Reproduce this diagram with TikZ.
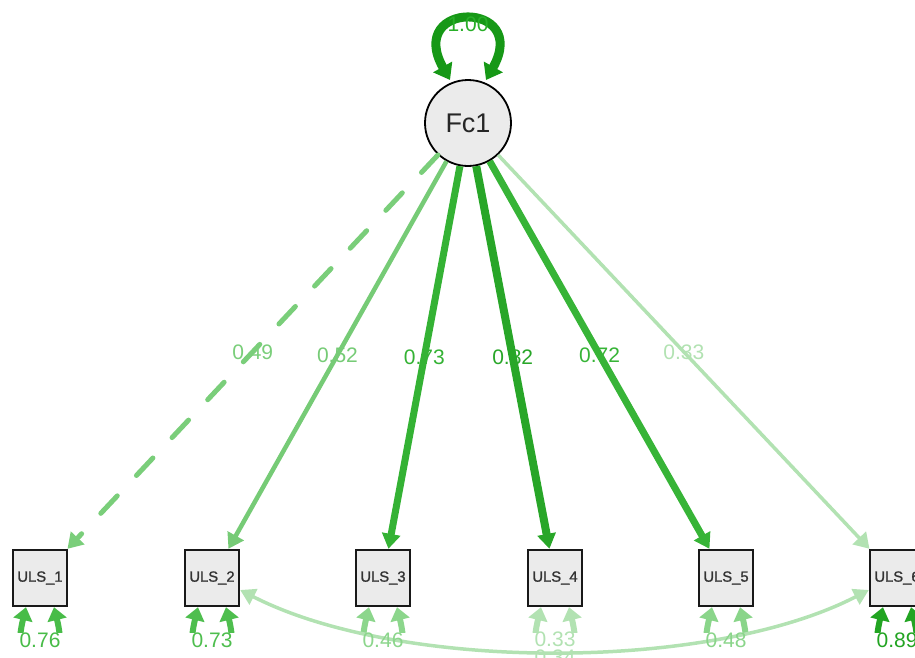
\documentclass[tikz,border=0pt]{standalone}
\usepackage{fontspec}
\setmainfont{Liberation Sans}
\newfontfamily\boxfont[FakeBold=1.3]{Liberation Sans}
\usetikzlibrary{arrows.meta,calc}
\definecolor{e049}{RGB}{122,206,122}
\definecolor{e052}{RGB}{118,203,118}
\definecolor{e073}{RGB}{52,178,52}
\definecolor{e082}{RGB}{40,166,40}
\definecolor{e072}{RGB}{55,180,55}
\definecolor{e033}{RGB}{178,226,178}
\definecolor{loopc}{RGB}{22,152,22}
\definecolor{loopl}{RGB}{40,175,40}
\definecolor{r076}{RGB}{72,188,72}
\definecolor{r073}{RGB}{78,190,78}
\definecolor{r046}{RGB}{140,214,140}
\definecolor{r033}{RGB}{178,226,178}
\definecolor{r048}{RGB}{138,213,138}
\definecolor{r089}{RGB}{34,164,34}
\definecolor{nodefill}{RGB}{235,235,235}
\tikzset{
  latent/.style={circle,draw=black,line width=1.8pt,fill=nodefill,minimum size=86pt,inner sep=0pt,
    font=\fontsize{27}{30}\selectfont,text=black!85},
  manifest/.style={rectangle,draw=black!90,line width=2.4pt,fill=nodefill,minimum width=54pt,minimum height=56pt,
    inner sep=0pt,font=\boxfont\fontsize{14.8}{16}\selectfont,text=black!80},
  load/.style={-{Triangle[length=15pt,width=18pt]}},
  elabel/.style={font=\fontsize{21}{24}\selectfont},
  resid/.style={{Triangle[length=13pt,width=19pt]}-{Triangle[length=13pt,width=19pt]},line width=6pt},
}
\begin{document}
\begin{tikzpicture}[x=1pt,y=-1pt]
\useasboundingbox (0,0) rectangle (915,657);
\clip (0,0) rectangle (915,657);
% nodes
\node[latent] (Fc1) at (468,123) {Fc1};
\node[manifest] (U1) at (40,578) {ULS\_1};
\node[manifest] (U2) at (212,578) {ULS\_2};
\node[manifest] (U3) at (383,578) {ULS\_3};
\node[manifest] (U4) at (555,578) {ULS\_4};
\node[manifest] (U5) at (726,578) {ULS\_5};
\node[manifest] (U6) at (897,578) {ULS\_6};
% residual loops
\foreach \n/\c in {U1/r076,U2/r073,U3/r046,U4/r033,U5/r048,U6/r089}{
  \coordinate (\n rl) at ($(\n.south)+(-14,0)$);
  \coordinate (\n rr) at ($(\n.south)+(14,0)$);
  \draw[resid,draw=\c] (\n rl) .. controls ($(\n rl)+(-22,90)$) and ($(\n rr)+(22,90)$) .. (\n rr);
  \fill[white] ($(\n.center)+(-24,55)$) rectangle ($(\n.center)+(24,80)$);
}
% covariance
\coordinate (c2) at ($(U2.east)+(0,12)$);
\coordinate (c6) at ($(U6.west)+(0,12)$);
\draw[{Triangle[length=15pt,width=17pt]}-{Triangle[length=15pt,width=17pt]},line width=3.5pt,draw=e033]
  (c2) .. controls (400,672) and (710,672) .. (c6);
% residual labels
\foreach \n/\c/\v in {U1/r076/0.76,U2/r073/0.73,U3/r046/0.46,U5/r048/0.48,U6/r089/0.89}{
  \node[elabel,text=\c] at ($(\n.center)+(0,62)$) {\v};
}
\node[elabel,text=r033] at ($(U4.center)+(0,61)$) {0.33};
\node[elabel,text=e033] at (555,657) {0.34};
% loadings
\draw[load,line width=5pt,draw=e049,dash pattern=on 24pt off 28pt,line cap=round] (Fc1) -- (U1);
\draw[load,line width=4.5pt,draw=e052] (Fc1) -- (U2);
\draw[load,line width=7pt,draw=e073] (Fc1) -- (U3);
\draw[load,line width=8pt,draw=e082] (Fc1) -- (U4);
\draw[load,line width=7pt,draw=e072] (Fc1) -- (U5);
\draw[load,line width=3.5pt,draw=e033] (Fc1) -- (U6);
\node[elabel,text=e049] at ($(Fc1.center)!0.503!(U1.center)$) {0.49};
\node[elabel,text=e052] at ($(Fc1.center)!0.51!(U2.center)$) {0.52};
\node[elabel,text=e073] at ($(Fc1.center)!0.514!(U3.center)$) {0.73};
\node[elabel,text=e082] at ($(Fc1.center)!0.514!(U4.center)$) {0.82};
\node[elabel,text=e072] at ($(Fc1.center)!0.51!(U5.center)$) {0.72};
\node[elabel,text=e033] at ($(Fc1.center)!0.503!(U6.center)$) {0.33};
% variance loop of Fc1
\coordinate (vl) at ($(Fc1.center)+(-18,-43)$);
\coordinate (vr) at ($(Fc1.center)+(18,-43)$);
\draw[{Triangle[length=15pt,width=21pt]}-{Triangle[length=15pt,width=21pt]},line width=9pt,draw=loopc]
  (vl) .. controls ($(vl)+(-45,-80)$) and ($(vr)+(45,-80)$) .. (vr);
\node[elabel,text=loopl] at (468,24) {1.00};
\end{tikzpicture}
\end{document}
